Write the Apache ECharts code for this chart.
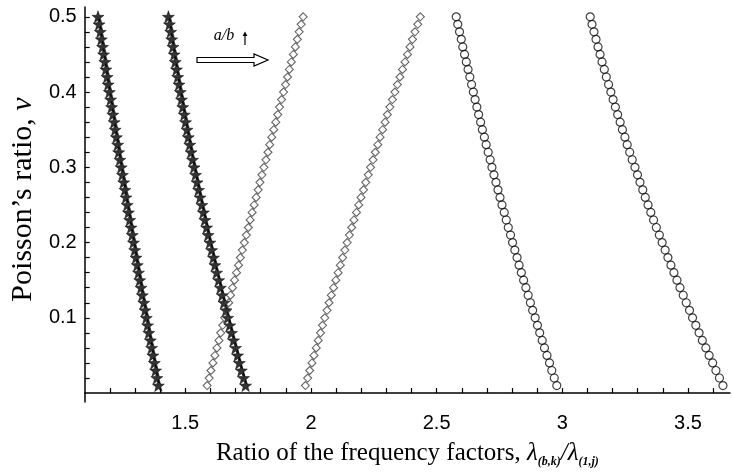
<!DOCTYPE html>
<html>
<head>
<meta charset="utf-8">
<script src="https://cdn.jsdelivr.net/npm/echarts@6/dist/echarts.min.js"></script>
<style>
html, body { margin: 0; padding: 0; background: #fff; }
#chart { width: 732px; height: 473px; }
</style>
</head>
<body>
<div id="chart"></div>
<script>
// Poisson's ratio (y) for every marker, bottom to top
const nu = [
  0.01, 0.02, 0.03, 0.04, 0.05, 0.06, 0.07, 0.08, 0.09, 0.10,
  0.11, 0.12, 0.13, 0.14, 0.15, 0.16, 0.17, 0.18, 0.19, 0.20,
  0.21, 0.22, 0.23, 0.24, 0.25, 0.26, 0.27, 0.28, 0.29, 0.30,
  0.31, 0.32, 0.33, 0.34, 0.35, 0.36, 0.37, 0.38, 0.39, 0.40,
  0.41, 0.42, 0.43, 0.44, 0.45, 0.46, 0.47, 0.48, 0.49, 0.50
]

// frequency factor ratios, same order as nu
const starA = [
  1.393, 1.387, 1.382, 1.377, 1.371, 1.366, 1.361, 1.355, 1.350, 1.345,
  1.340, 1.335, 1.329, 1.324, 1.319, 1.314, 1.309, 1.304, 1.299, 1.294,
  1.289, 1.284, 1.279, 1.274, 1.269, 1.264, 1.260, 1.255, 1.250, 1.245,
  1.240, 1.235, 1.231, 1.226, 1.221, 1.217, 1.212, 1.207, 1.203, 1.198,
  1.193, 1.189, 1.184, 1.180, 1.175, 1.171, 1.166, 1.162, 1.157, 1.153
]
const starB = [
  1.740, 1.732, 1.723, 1.715, 1.708, 1.700, 1.692, 1.684, 1.677, 1.669,
  1.662, 1.654, 1.647, 1.640, 1.633, 1.625, 1.618, 1.612, 1.605, 1.598,
  1.591, 1.585, 1.578, 1.572, 1.566, 1.559, 1.553, 1.547, 1.541, 1.535,
  1.529, 1.523, 1.518, 1.512, 1.507, 1.501, 1.496, 1.490, 1.485, 1.480,
  1.475, 1.470, 1.465, 1.460, 1.456, 1.451, 1.446, 1.442, 1.437, 1.433
]
const diamondA = [
  1.587, 1.595, 1.602, 1.610, 1.618, 1.626, 1.634, 1.641, 1.649, 1.657,
  1.665, 1.673, 1.680, 1.688, 1.696, 1.704, 1.712, 1.719, 1.727, 1.735,
  1.743, 1.751, 1.758, 1.766, 1.774, 1.782, 1.790, 1.797, 1.805, 1.813,
  1.821, 1.829, 1.836, 1.844, 1.852, 1.860, 1.868, 1.875, 1.883, 1.891,
  1.899, 1.907, 1.914, 1.922, 1.930, 1.938, 1.946, 1.953, 1.961, 1.969
]
const diamondB = [
  1.978, 1.987, 1.995, 2.004, 2.012, 2.021, 2.029, 2.038, 2.046, 2.055,
  2.064, 2.072, 2.081, 2.090, 2.099, 2.108, 2.117, 2.126, 2.135, 2.144,
  2.153, 2.162, 2.171, 2.181, 2.190, 2.199, 2.209, 2.218, 2.228, 2.237,
  2.247, 2.256, 2.266, 2.275, 2.285, 2.295, 2.304, 2.314, 2.324, 2.334,
  2.344, 2.354, 2.364, 2.374, 2.384, 2.394, 2.404, 2.414, 2.425, 2.435
]
const circleA = [
  2.978, 2.968, 2.958, 2.949, 2.939, 2.929, 2.920, 2.910, 2.901, 2.892,
  2.882, 2.873, 2.864, 2.855, 2.846, 2.837, 2.828, 2.820, 2.811, 2.802,
  2.794, 2.785, 2.777, 2.769, 2.760, 2.752, 2.744, 2.736, 2.728, 2.720,
  2.713, 2.705, 2.697, 2.690, 2.682, 2.675, 2.667, 2.660, 2.653, 2.646,
  2.639, 2.632, 2.625, 2.618, 2.611, 2.604, 2.598, 2.591, 2.584, 2.578
]
const circleB = [
  3.639, 3.625, 3.611, 3.598, 3.584, 3.571, 3.557, 3.544, 3.531, 3.518,
  3.506, 3.493, 3.481, 3.468, 3.456, 3.444, 3.432, 3.420, 3.409, 3.397,
  3.386, 3.374, 3.363, 3.352, 3.341, 3.330, 3.320, 3.309, 3.299, 3.289,
  3.278, 3.268, 3.258, 3.249, 3.239, 3.230, 3.220, 3.211, 3.202, 3.193,
  3.184, 3.175, 3.167, 3.158, 3.150, 3.142, 3.134, 3.126, 3.118, 3.111
]

// ticks and labels
const xTicks = [
  1.2, 1.3, 1.4, 1.5, 1.6, 1.7, 1.8, 1.9, 2.0, 2.1, 2.2, 2.3, 2.4,
  2.5, 2.6, 2.7, 2.8, 2.9, 3.0, 3.1, 3.2, 3.3, 3.4, 3.5, 3.6
]
const xLabels = [1.5, 2, 2.5, 3, 3.5]
const yTicks = [
  0.02, 0.04, 0.06, 0.08, 0.1, 0.12, 0.14, 0.16, 0.18, 0.2, 0.22, 0.24, 0.26,
  0.28, 0.3, 0.32, 0.34, 0.36, 0.38, 0.4, 0.42, 0.44, 0.46, 0.48, 0.5
]
const yLabels = [0.1, 0.2, 0.3, 0.4, 0.5]

const toPoints = (xs) => xs.map((x, i) => [x, nu[i]])

const starPath = 'path://M0,-10 L2.35,-3.24 L9.51,-3.09 L3.8,1.24 L5.88,8.09 L0,4 L-5.88,8.09 L-3.8,1.24 L-9.51,-3.09 L-2.35,-3.24 Z'

const starStyle = {
  type: 'scatter',
  symbol: starPath,
  symbolSize: 12,
  itemStyle: { color: '#000', borderColor: '#000', borderWidth: 0.6 }
}
const diamondStyle = {
  type: 'scatter',
  symbol: 'diamond',
  symbolSize: [8, 8],
  itemStyle: { color: 'rgba(0,0,0,0)', borderColor: '#404040', borderWidth: 1.1 }
}
const circleStyle = {
  type: 'scatter',
  symbol: 'circle',
  symbolSize: 8,
  itemStyle: { color: 'rgba(0,0,0,0)', borderColor: '#111', borderWidth: 1.2 }
}

const chart = echarts.init(document.getElementById('chart'))

const option = {
  animation: false,
  backgroundColor: '#fff',
  grid: { left: 81, right: 2, top: 7, bottom: 57 },
  xAxis: {
    type: 'value',
    min: 1.1,
    max: 3.667,
    axisLine: { onZero: true, lineStyle: { color: '#000', width: 1.5 } },
    axisTick: { inside: true, length: 5, customValues: xTicks, lineStyle: { color: '#000', width: 1.2 } },
    axisLabel: {
      customValues: xLabels,
      margin: 11,
      fontSize: 20,
      fontFamily: 'Liberation Sans',
      color: '#000'
    },
    splitLine: { show: false },
    name: 'Ratio of the frequency factors, {l|λ}{s|(b,k)}{l|/λ}{s|(1,j)}',
    nameLocation: 'middle',
    nameGap: 33,
    nameTextStyle: {
      fontFamily: 'Liberation Serif',
      fontSize: 25,
      color: '#000',
      lineHeight: 30,
      rich: {
        l: { fontFamily: 'Liberation Serif', fontStyle: 'italic', fontSize: 25, color: '#000', lineHeight: 30 },
        s: { fontFamily: 'Liberation Serif', fontStyle: 'italic', fontWeight: 'bold', fontSize: 12, color: '#000', lineHeight: 12, verticalAlign: 'bottom' }
      }
    }
  },
  yAxis: {
    type: 'value',
    min: -0.012,
    max: 0.513,
    axisLine: { show: true, onZero: false, lineStyle: { color: '#000', width: 1.5 } },
    axisTick: { inside: true, length: 5, customValues: yTicks, lineStyle: { color: '#000', width: 1.2 } },
    axisLabel: {
      customValues: yLabels,
      margin: 8,
      fontSize: 20,
      fontFamily: 'Liberation Sans',
      color: '#000'
    },
    splitLine: { show: false },
    name: 'Poisson’s ratio, {i|ν}',
    nameLocation: 'middle',
    nameGap: 44,
    nameTextStyle: {
      fontFamily: 'Liberation Serif',
      fontSize: 30,
      color: '#000',
      padding: [0, 0, 0, 10],
      rich: {
        i: { fontFamily: 'Liberation Serif', fontStyle: 'italic', fontSize: 30, color: '#000' }
      }
    }
  },
  graphic: [
    {
      type: 'polygon',
      shape: { points: [[197, 57.5], [254, 57.5], [254, 54], [268, 60], [254, 66], [254, 62.5], [197, 62.5]] },
      style: { fill: '#fff', stroke: '#000', lineWidth: 1.2 }
    },
    {
      type: 'text',
      x: 224,
      y: 44,
      style: { text: 'a/b', font: 'italic 16px "Liberation Serif"', fill: '#000', align: 'center', verticalAlign: 'bottom' }
    },
    {
      type: 'line',
      shape: { x1: 245, y1: 45, x2: 245, y2: 35 },
      style: { stroke: '#000', lineWidth: 1.2 }
    },
    {
      type: 'polygon',
      shape: { points: [[242.6, 36], [245, 31.5], [247.4, 36]] },
      style: { fill: '#000' }
    }
  ],
  series: [
    Object.assign({ name: 'starA', data: toPoints(starA) }, starStyle),
    Object.assign({ name: 'starB', data: toPoints(starB) }, starStyle),
    Object.assign({ name: 'diamondA', data: toPoints(diamondA) }, diamondStyle),
    Object.assign({ name: 'diamondB', data: toPoints(diamondB) }, diamondStyle),
    Object.assign({ name: 'circleA', data: toPoints(circleA) }, circleStyle),
    Object.assign({ name: 'circleB', data: toPoints(circleB) }, circleStyle)
  ]
}

chart.setOption(option)
</script>
</body>
</html>
